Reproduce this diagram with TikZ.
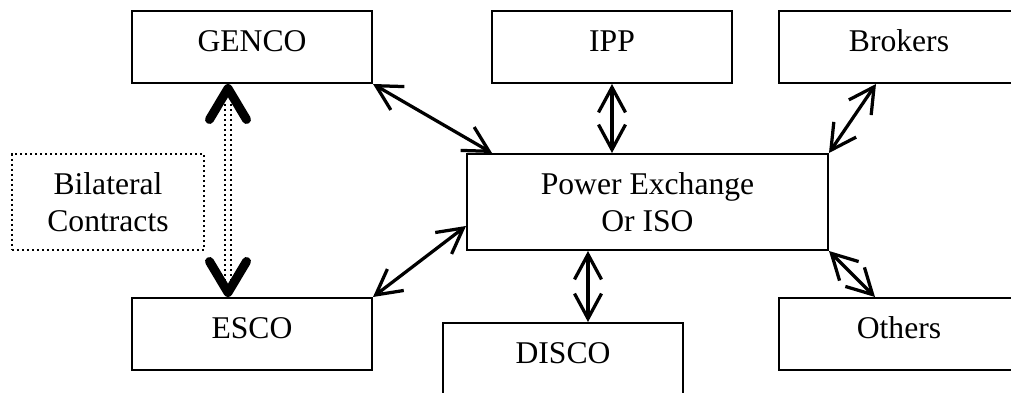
\documentclass[tikz,border=0pt]{standalone}
\usepackage{fontspec}
\setmainfont{Liberation Serif}
\usetikzlibrary{arrows.meta}
\usetikzlibrary{positioning}

\begin{document}
\begin{tikzpicture}[<->,>={Straight Barb[length=0.5cm,width=0.54cm]},
                    line width=0.065cm,node distance=5.74cm,
                    font=\fontsize{18}{21}\selectfont,
                    party/.style={rectangle,draw,line width=0.04cm,inner sep=0pt,
                      minimum width=4.8cm,minimum height=1.44cm,
                      text height=0.42cm,text depth=0.22cm},
                    market/.style={rectangle,draw,line width=0.04cm,inner sep=0pt,
                      minimum width=7.22cm,minimum height=1.92cm,align=center},
                    note/.style={rectangle,draw,line width=0.04cm,inner sep=0pt,
                      dash pattern=on 0.04cm off 0.06cm,
                      minimum width=3.84cm,minimum height=1.92cm,align=center},
                    bilat tips/.style={line width=0.18cm,dash pattern=on 0pt off 20cm,
                      {Straight Barb[length=0.62cm,width=0.74cm,round]}-{Straight Barb[length=0.62cm,width=0.74cm,round]}},
                    bilat shaft/.style={-,line width=0.04cm,double=white,double distance=0.075cm,
                      dash pattern=on 0.04cm off 0.06cm,shorten <=0.3cm,shorten >=0.3cm}]

  \useasboundingbox (0,0) rectangle (20.22,-7.86);

  \node[party] (genco) at (5.04,-0.94) {GENCO};
  \node[party] (ipp) [right of=genco,node distance=7.2cm] {IPP};
  \node[party] (brokers) [right of=ipp] {Brokers};
  \node[party] (esco) [below of=genco] {ESCO};
  \node[party] (others) [below of=brokers] {Others};
  \node[party] (disco) at (11.26,-7.18) {DISCO};
  \node[market] (px) at (12.95,-4.04) {Power Exchange\\Or ISO};
  \node[note] (bilat) at (2.16,-4.04) {Bilateral\\Contracts};

  % links to the exchange
  \draw (genco.south east) -- ([xshift=0.52cm]px.north west);
  \draw (ipp.south) -- (ipp.south |- px.north);
  \draw ([xshift=1.96cm]brokers.south west) -- (px.north east);
  \draw ([yshift=0.5cm]px.south west) -- (esco.north east);
  \draw ([xshift=-1.19cm]px.south) -- ([xshift=-1.19cm]px.south |- disco.north);
  \draw (px.south east) -- ([xshift=1.94cm]others.north west);

  % bilateral contracts
  \draw[bilat shaft] ([xshift=-0.48cm]genco.south) -- ([xshift=-0.48cm]esco.north);
  \draw[bilat tips] ([xshift=-0.48cm]genco.south) -- ([xshift=-0.48cm]esco.north);
\end{tikzpicture}
\end{document}
